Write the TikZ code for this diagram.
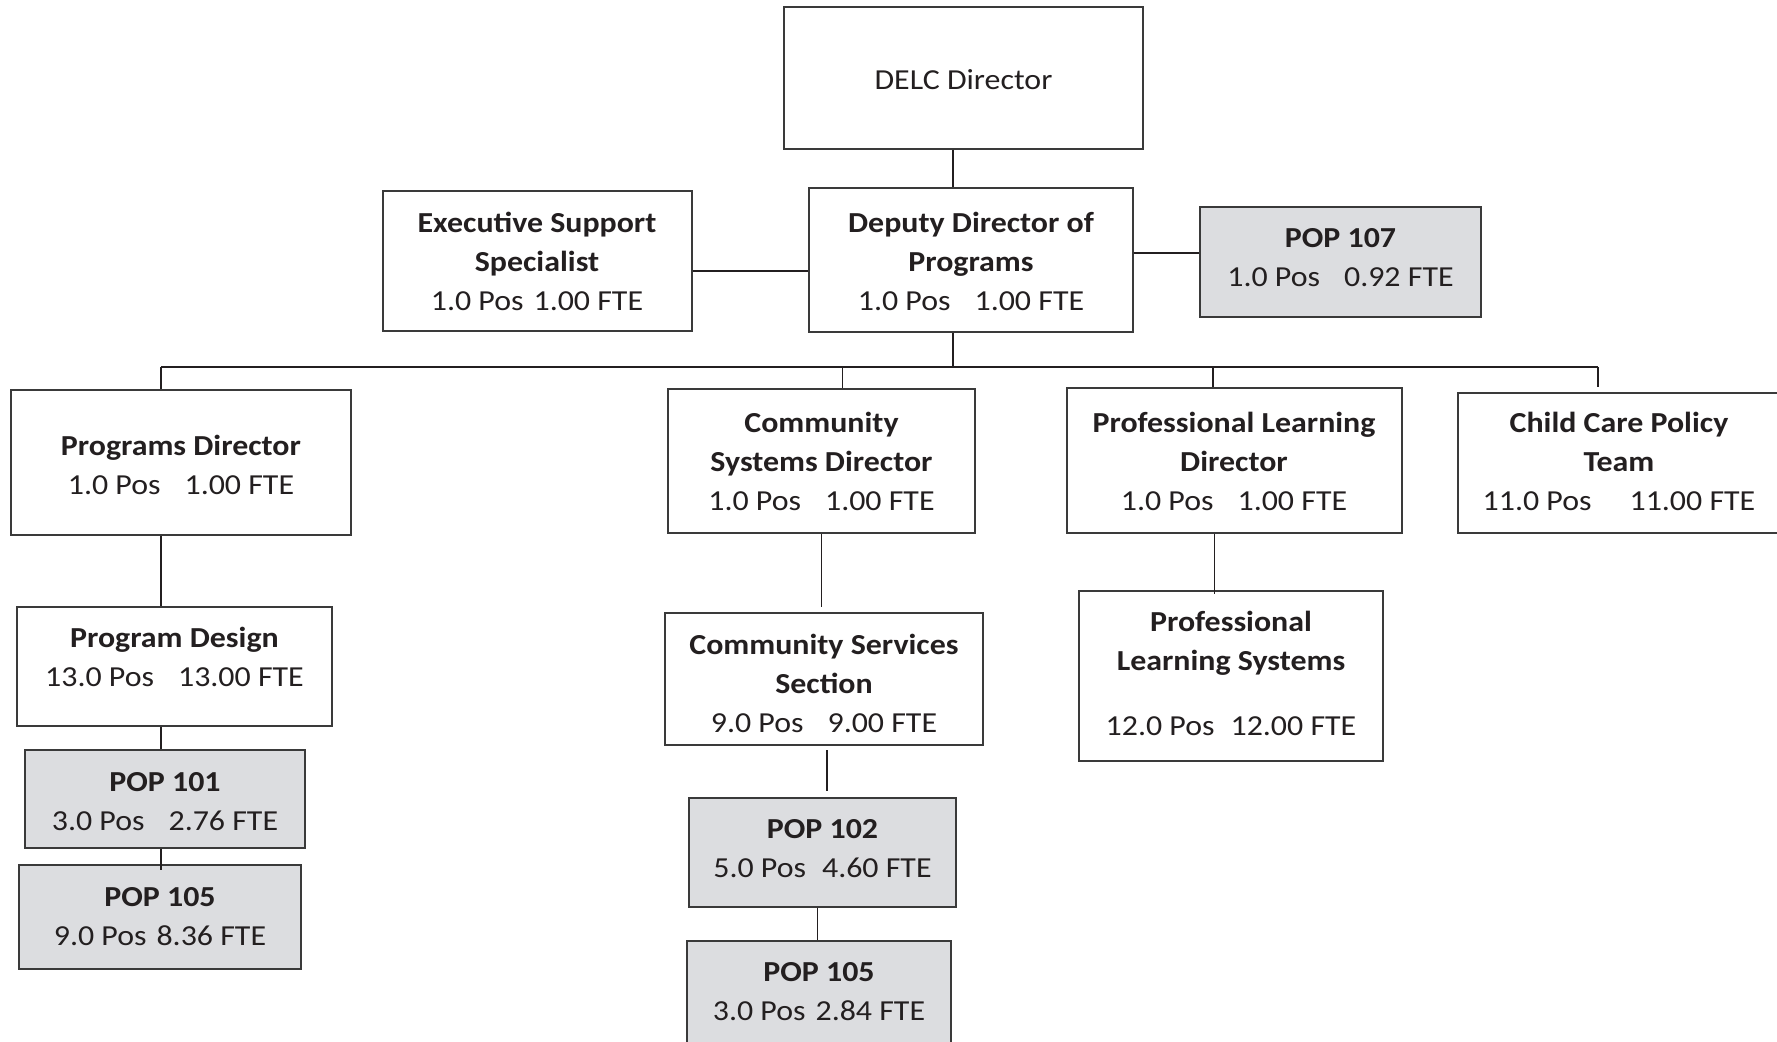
\documentclass[tikz,border=0pt]{standalone}
\usepackage{fontspec}
\setmainfont{Carlito}[FakeStretch=1.1]
\usetikzlibrary{fit}
\definecolor{ink}{HTML}{231F20}
\definecolor{rule}{HTML}{3A3A3A}
\definecolor{popfill}{HTML}{DCDDE0}
\newcommand{\gap}[1]{\hspace{#1pt}}
\begin{document}
\begin{tikzpicture}[x=0.5pt,y=-0.5pt,
  orgbox/.style={draw=rule, line width=0.7pt, fill=white, inner sep=0pt},
  popbox/.style={orgbox, fill=popfill},
  txt/.style={anchor=north, inner sep=0pt, align=center, text=ink,
    font=\fontsize{14.5pt}{19.5pt}\selectfont},
  link/.style={draw=ink, line width=0.65pt},
  buslink/.style={draw=ink, line width=0.85pt}]
\useasboundingbox (0,0) rectangle (1777,1042);
\clip (0,0) rectangle (1777,1042);

% ---- boxes ----
\node[orgbox, fit={(784,7) (1143,149)}] (delc) {};
\node[orgbox, fit={(383,191) (692,331)}] (exec) {};
\node[orgbox, fit={(809,188) (1133,332)}] (deputy) {};
\node[popbox, fit={(1200,207) (1481,317)}] (pop107) {};
\node[orgbox, fit={(11,390) (351,535)}] (progdir) {};
\node[orgbox, fit={(17,607) (332,726)}] (progdes) {};
\node[popbox, fit={(25,750) (305,848)}] (pop101) {};
\node[popbox, fit={(19,865) (301,969)}] (pop105a) {};
\node[orgbox, fit={(668,389) (975,533)}] (csd) {};
\node[orgbox, fit={(665,613) (983,745)}] (css) {};
\node[popbox, fit={(689,798) (956,907)}] (pop102) {};
\node[popbox, fit={(687,941) (951,1060)}] (pop105b) {};
\node[orgbox, fit={(1067,388) (1402,533)}] (pld) {};
\node[orgbox, fit={(1079,591) (1383,761)}] (pls) {};
\node[orgbox, fit={(1458,393) (1781,533)}] (ccpt) {};

% ---- texts (north = first baseline - 27.3) ----
\node[txt] (delc-t) at (963.5,61.7) {\strut DELC Director};
\node[txt] (exec-t) at (537,204.7) {\strut\textbf{Executive Support}\\\textbf{Specialist}\\1.0 Pos\gap{5}1.00 FTE};
\node[txt] (deputy-t) at (971,204.4) {\strut\textbf{Deputy Director of}\\\textbf{Programs}\\1.0 Pos\gap{12}1.00 FTE};
\node[txt] (pop107-t) at (1340.5,219.7) {\strut\textbf{POP 107}\\1.0 Pos\gap{12}0.92 FTE};
\node[txt] (progdir-t) at (181,427.5) {\strut\textbf{Programs Director}\\1.0 Pos\gap{12}1.00 FTE};
\node[txt] (progdes-t) at (174.5,619.7) {\strut\textbf{Program Design}\\13.0 Pos\gap{12}13.00 FTE};
\node[txt] (pop101-t) at (165,763.4) {\strut\textbf{POP 101}\\3.0 Pos\gap{12}2.76 FTE};
\node[txt] (pop105a-t) at (160,878.7) {\strut\textbf{POP 105}\\9.0 Pos\gap{5}8.36 FTE};
\node[txt] (csd-t) at (821.5,404.5) {\strut\textbf{Community}\\\textbf{Systems Director}\\1.0 Pos\gap{12}1.00 FTE};
\node[txt] (css-t) at (824,626.3) {\strut\textbf{Community Services}\\\textbf{Section}\\9.0 Pos\gap{12}9.00 FTE};
\node[txt] (pop102-t) at (822.5,811.2) {\strut\textbf{POP 102}\\5.0 Pos\gap{8}4.60 FTE};
\node[txt] (pop105b-t) at (819,953.7) {\strut\textbf{POP 105}\\3.0 Pos\gap{5}2.84 FTE};
\node[txt] (pld-t) at (1234,404.5) {\strut\textbf{Professional Learning}\\\textbf{Director}\\1.0 Pos\gap{12}1.00 FTE};
\node[txt] (pls-t) at (1231,603.3) {\strut\textbf{Professional}\\\textbf{Learning Systems}\\[13pt]12.0 Pos\gap{8}12.00 FTE};
\node[txt] (ccpt-t) at (1619,404.5) {\strut\textbf{Child Care Policy}\\\textbf{Team}\\11.0 Pos\gap{19}11.00 FTE};

% ---- junction points ----
\coordinate (spine) at (953,367);
\coordinate (busL) at (161,367);
\coordinate (busR) at (1598,367);
\coordinate (dropCSD) at (842.6,367);
\coordinate (dropPLD) at (1213,367);
\coordinate (ccptEnd) at (1598,387);
\coordinate (execLink) at (0,271);
\coordinate (popLink) at (0,253);

% ---- connectors ----
\draw[link] (delc.south -| spine) -- (deputy.north -| spine);
\draw[link] (deputy.south -| spine) -- (spine);
\draw[link] (exec.east |- execLink) -- (deputy.west |- execLink);
\draw[link] (deputy.east |- popLink) -- (pop107.west |- popLink);
\draw[buslink] (busL) -- (busR);
\draw[link] (busL) -- (progdir.north -| busL);
\draw[link] (dropCSD) -- (csd.north -| dropCSD);
\draw[link] (dropPLD) -- (pld.north -| dropPLD);
\draw[link] (busR) -- (ccptEnd);

\coordinate (leftSpine) at (161,0);
\draw[link] (progdir.south -| leftSpine) -- (progdes.north -| leftSpine);
\draw[link] (progdes.south -| leftSpine) -- (pop101.north -| leftSpine);
\coordinate (pop105aIn) at (161,870);
\draw[link] (pop101.south -| leftSpine) -- (pop105aIn);

\coordinate (csdEnd) at (821.4,607);
\draw[link] (csd.south -| csdEnd) -- (csdEnd);
\coordinate (cssA) at (827,750);
\coordinate (cssB) at (827,791);
\draw[link] (cssA) -- (cssB);
\coordinate (pop102Link) at (817.4,0);
\draw[link] (pop102.south -| pop102Link) -- (pop105b.north -| pop102Link);
\coordinate (plsIn) at (1214.6,594);
\draw[link] (pld.south -| plsIn) -- (plsIn);
\end{tikzpicture}
\end{document}
